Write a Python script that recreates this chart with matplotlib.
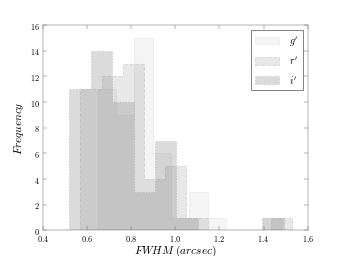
import numpy as np
import matplotlib
matplotlib.use('Agg')
from matplotlib import pyplot as plt
from matplotlib.ticker import FuncFormatter

plt.rcParams['mathtext.fontset'] = 'cm'
plt.rcParams['font.family'] = 'serif'

# histogram counts per band, 10 bins each between min and max FWHM
g_counts = [11, 9, 15, 6, 1, 3, 1, 0, 0, 1]
g_range = (0.648, 1.48)
r_counts = [11, 12, 13, 4, 5, 1, 0, 0, 0, 1]
r_range = (0.57, 1.53)
i_counts = [11, 14, 10, 3, 7, 1, 0, 0, 0, 1]
i_range = (0.52, 1.49)

labels = [r"$g'$", r"$r'$", r"$i'$"]

fig = plt.figure(figsize=(8, 6), dpi=42.75)
ax = fig.add_subplot(111)
fig.subplots_adjust(left=0.125, right=0.9, bottom=0.1, top=0.9)

styles = [
    dict(facecolor='0.5', alpha=0.08, edgecolor='0.45', linestyle='-'),
    dict(facecolor='0.5', alpha=0.18, edgecolor='0.45', linestyle='--'),
    dict(facecolor='0.5', alpha=0.28, edgecolor='0.45', linestyle=':'),
]

for counts, rng, lab, st in zip([g_counts, r_counts, i_counts],
                                [g_range, r_range, i_range], labels, styles):
    edges = np.linspace(rng[0], rng[1], len(counts) + 1)
    ax.hist(edges[:-1], bins=edges, weights=counts, histtype='stepfilled',
            label=lab, linewidth=1.8, **st)

ax.set_xlim(0.4, 1.6)
ax.set_ylim(0, 16)
ax.set_xticks(np.arange(0.4, 1.61, 0.2))
ax.set_yticks(np.arange(0, 17, 2))
ax.xaxis.set_major_formatter(FuncFormatter(lambda v, p: r'$%.1f$' % v))
ax.yaxis.set_major_formatter(FuncFormatter(lambda v, p: r'$%d$' % v))
ax.tick_params(direction='in', top=True, right=True, labelsize=14, length=6,
               color='0.4', pad=5)
for s in ax.spines.values():
    s.set_color('0.4')

ax.set_xlabel(r'$FWHM\ (arcsec)$', fontsize=19, labelpad=0)
ax.set_ylabel(r'$Frequency$', fontsize=19, labelpad=6)

leg = ax.legend(loc='upper right', fontsize=17, fancybox=False,
                handlelength=2.3, handleheight=0.8, borderpad=0.45,
                labelspacing=0.7, handletextpad=1.0, borderaxespad=0.5)
leg.get_frame().set_edgecolor('black')

fig.savefig('out.png', dpi=42.75)
